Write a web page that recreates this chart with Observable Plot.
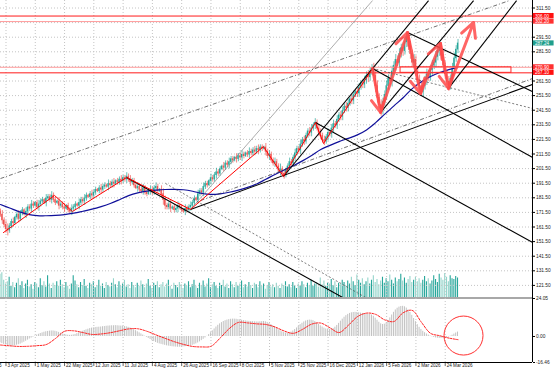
<!DOCTYPE html>
<html><head><meta charset="utf-8">
<script src="https://cdn.jsdelivr.net/npm/d3@7"></script>
<script src="https://cdn.jsdelivr.net/npm/@observablehq/plot@0.6"></script>
<style>
html,body{margin:0;padding:0;background:#fff;}
#wrap{position:relative;width:554px;height:370px;overflow:hidden;background:#fff;font-family:"Liberation Sans",Arial,sans-serif;}
.layer{position:absolute;left:0;}
</style></head><body><div id="wrap"></div>
<script>
// ---------- DATA ----------
const firstOpen = 172;
const closes = [
170,166,163,160,159,
162,165,164,168,170,167,171,173,170,172,175,174,177,176,178,175,177,179,180,178,181,182,180,183,
180,178,179,176,177,175,174,176,173,172,
174,175,177,176,178,180,179,181,183,182,184,183,185,187,186,188,187,189,190,189,191,190,192,191,193,192,194,193,195,194,196,
194,192,193,190,188,189,187,186,188,185,184,186,187,185,188,189,186,187,184,180,176,
175,177,174,175,173,174,176,175,173,172,174,173,175,176,
178,181,180,184,186,185,189,191,190,193,195,194,197,199,198,201,203,202,205,204,206,208,207,209,208,210,209,211,210,212,211,213,212,214,213,215,214,216,215,216,
213,210,211,207,205,206,203,200,201,198,197,
200,203,206,205,209,212,215,214,218,221,220,224,227,226,229,231,233,
229,226,224,221,220,
223,226,225,229,232,231,235,238,237,241,244,243,246,249,248,252,254,253,257,260,259,262,265,264,268,270,
265,258,250,245,241,
247,252,258,263,261,268,272,276,274,280,284,282,288,291,
285,280,274,276,268,262,258,254,
258,262,266,264,269,272,274,278,282,285,
279,272,266,261,258,
263,270,277,283,287.24
];
const wicks = [
2,3,2,3,4,2,2,3,1,2, 3,2,2,1,3,2,2,3,2,1, 2,3,2,2,1,3,2,2,3,2, 2,1,3,2,2,3,1,2,2,3,
2,2,1,3,2,2,3,2,1,2, 3,2,2,1,2,3,2,2,1,3, 2,2,3,1,2,2,3,2,2,3, 2,3,2,2,1,3,2,2,3,2,
2,1,3,2,2,3,2,1,3,4, 3,2,2,3,1,2,2,3,2,2, 1,3,2,2,3,2,2,1,3,2, 2,3,2,2,1,3,2,2,3,2,
2,1,3,2,2,3,2,2,1,3, 2,2,3,2,1,2,3,2,2,3, 2,3,2,2,1,3,2,3,2,2, 3,2,2,4,2,3,2,2,3,2,
2,3,2,2,3,2,3,2,2,3, 3,2,3,2,3,3,2,3,2,3, 2,3,3,2,3,2,3,3,2,3, 3,2,3,3,2,3,3,2,3,3,
3,4,3,3,4,5,4,3,4,3, 3,4,3,3,4,3,4,3,4,3, 4,3,4,3,4,3,4,3,3,4, 3,4,3,4,3,3,4,3,4,3,
4,3,4,3,3,4,3,4,4,3, 3
];
const volumes = [
68,70,60,55,58,64,52,57,50,56, 62,53,58,49,55,60,51,54,48,57, 55,50,62,53,58,51,66,55,49,56,
53,58,52,60,54,50,57,52,48,55, 66,59,54,50,57,53,61,52,49,56, 54,58,50,53,60,52,55,49,57,53,
51,56,62,54,50,58,52,55,60,51, 54,49,57,53,50,56,52,59,54,50, 55,61,52,49,56,53,58,50,54,57,
51,55,60,52,48,56,53,50,57,54, 49,55,52,58,50,54,60,52,49,56, 53,59,51,55,62,50,54,57,52,49,
56,53,60,51,55,49,58,54,50,57, 52,55,59,50,54,51,57,53,49,56, 54,50,58,52,55,48,53,57,51,54,
50,56,52,49,55,53,58,51,54,50, 57,53,49,55,52,58,54,50,56,53, 60,52,55,57,51,63,54,59,52,56,
55,61,53,58,50,56,54,60,57,52, 59,55,64,58,53,67,60,56,62,54, 58,63,55,60,66,57,61,54,59,64,
56,62,58,67,60,55,63,58,61,68, 59,63,56,61,65,57,60,64,58,62, 56,60,65,58,62,55,59,66,61,57,
68,63,60,69,64,58,66,62,61,65, 63
];
const macdHist = [
-4.0,-4.5,-5.0,-5.3,-5.8,-6.0,-6.2,-6.0,-5.8,-5.5, -5.2,-4.8,-4.2,-3.6,-3.0,-2.3,-1.6,-1.0,-0.4,0.3,
0.9,1.4,1.9,2.3,2.7,3.0,3.2,3.4,3.5,3.5, 3.3,3.0,2.6,2.1,1.7,1.3,1.0,0.8,0.7,0.8,
1.0,1.3,1.8,2.3,2.8,3.3,3.8,4.2,4.6,5.0, 5.3,5.5,5.7,5.8,5.9,6.0,6.2,6.3,6.5,6.6,
6.7,6.8,6.8,6.9,6.8,6.7,6.6,6.5,6.3,6.1, 5.8,5.4,4.9,4.3,3.7,3.0,2.3,1.6,0.9,0.2,
-0.5,-1.2,-1.9,-2.6,-3.2,-3.8,-4.3,-4.7,-5.0,-5.3, -5.6,-5.9,-6.1,-6.3,-6.5,-6.6,-6.7,-6.8,-6.8,-6.7,
-6.6,-6.5,-6.3,-6.1,-5.9,-5.6,-5.2,-4.7,-4.1,-3.4, -2.6,-1.8,-0.9,0.1,1.2,2.4,3.6,4.8,6.0,7.1,
8.0,8.8,9.5,10.0,10.4,10.7,10.9,11.0,11.0,10.9, 10.7,10.5,10.3,10.1,9.9,9.7,9.6,9.5,9.4,9.3,
9.2,9.2,9.3,9.4,9.5,9.3,8.9,8.3,7.6,6.8, 6.0,5.1,4.3,3.6,3.0,2.5,2.2,2.1,2.3,2.8,
3.5,4.4,5.4,6.5,7.5,8.4,9.2,9.8,10.2,10.4, 10.3,10.0,9.4,8.6,7.7,6.8,6.0,5.3,4.8,4.5,
4.4,4.6,5.1,5.9,7.0,8.3,9.7,11.0,12.2,13.2, 14.0,14.6,15.0,15.2,15.3,15.2,15.0,14.8,14.6,14.4,
14.3,14.2,14.0,13.6,12.8,11.6,10.3,9.0,8.0,7.6, 7.8,8.6,10.0,11.8,13.6,15.3,16.8,17.9,18.6,19.0,
19.1,18.8,18.0,16.8,15.2,13.4,11.4,9.4,7.5,5.8, 4.4,3.3,2.4,1.6,0.9,0.3,-0.2,-0.6,-0.9,-1.1,
-1.2,-1.2,-1.1,-0.9,-0.6,-0.3,0.2,0.8,1.5,2.2, 2.8
];
// signal line and moving average, read every 5 bars
const everyFive = d3.range(0, 251, 5);
const macdSignal = [-5.4,-5.9,-6.3,-6.2,-5.8,-5.1,-1.3,3.3,3.6,2.5, 1.3,1.6,2.4,3.6,4.8,4.9,3.3,1.0,-1.2,-3.3,
 -5.0,-6.3,-6.6,-6.2,-1.0,5.0,8.9,8.6,8.0,7.6, 6.0,3.5,2.0,4.5,7.8,8.5,5.5,2.5,7.0,12.5,
 14.8,14.0,10.5,9.5,15.0,16.5,9.0,2.0,0.5,-1.0, -2.0];
const movingAvg = [176.9,174.5,172.0,170.2,169.3,169.2,169.4,170.0,171.0,172.3, 173.7,175.5,177.6,180.2,183.0,184.9,186.1,186.8,187.2,187.3,
 187.0,186.0,184.5,183.8,184.2,185.3,186.8,188.6,191.0,194.2, 197.5,200.6,203.5,206.8,210.5,214.6,217.4,220.0,222.2,224.6,
 228.0,233.0,238.8,244.5,250.0,256.3,261.0,264.6,267.3,269.3, 270.8];
// zigzag and arrows (bar index, price)
const zigI = [1.6,29.5,39.3,68.9,103.8,143.7,154.6,172.1,176.5,203.3];
const zigP = [157.7,183.1,172.1,195.4,173.5,216.6,196.1,233.1,218.7,270.1];
const arrowI = [203.3,207.7,222.4,229.5,240.4,244.8,258.5];
const arrowP = [270.1,240.0,294.7,252.9,287.2,256.4,301.6];
// trend lines [i1, p1, i2, p2]
const thickLines = [
 [68.9,195.4,188.0,112.5],[103.8,173.5,290.7,259.1],[203.3,270.1,290.7,209.1],[172.1,233.1,290.7,150.9],
 [222.4,294.7,290.7,254.3],[154.6,196.1,233.9,316.6],[207.7,240.0,258.5,316.6],[244.8,256.4,282.0,316.6]
];
const dashedLines = [[90.2,191.3,200.5,112.5],[203.3,270.1,290.7,242.7]];
const dashDotLines = [[0,194.7,278.1,316.6],[109.3,179.6,290.7,263.2]];
const thinLines = [[103.8,173.5,203.3,316.6]];
// horizontal levels
const levelStrong = [306.0, 267.1];
const levelLight = [302.2, 270.9];
const zoneI = [218.6, 279.2];
const zoneP = [267.1, 270.9];
// axes
const priceGrid = [311.5,301.5,291.5,281.5,271.5,261.5,251.5,241.5,231.5,221.5,211.5,201.5,191.5,181.5,171.5,161.5,151.5,141.5,131.5,121.5];
const priceTickLabels = [311.5,291.5,281.5,261.5,251.5,241.5,231.5,221.5,211.5,201.5,191.5,181.5,171.5,161.5,151.5,141.5,131.5,121.5];
const macdTicks = [24.05, 0, -16.46];
const xTickIdx = [-13,3,19,35,51,67,83,99,115,131,147,163,179,195,211,227,243];
const xTickLabels = ["7 Mar 2025","3 Apr 2025","1 May 2025","22 May 2025","12 Jun 2025","11 Jul 2025","4 Aug 2025","26 Aug 2025","16 Sep 2025","8 Oct 2025","5 Nov 2025","25 Nov 2025","16 Dec 2025","12 Jan 2026","5 Feb 2026","2 Mar 2026","24 Mar 2026"];
const circleI = 253.0, circleV = 0.6;

// ---------- BUILD ----------
const X_DOMAIN = [0, 290.7];
const P_DOMAIN = [112.53, 316.64];
const V_DOMAIN = [37, 83];
const M_DOMAIN = [-16.46, 24.05];
const UP = "#26a69a", DOWN = "#ef5350";
const FONT = "Liberation Sans, Arial, sans-serif";

const bars = closes.map((c, i) => {
  const o = i === 0 ? firstOpen : closes[i - 1];
  const w = wicks[i] * 0.9;
  return {i, o, c, hi: Math.max(o, c) + w, lo: Math.min(o, c) - w, up: c >= o, v: volumes[i], m: macdHist[i]};
});
const maData = everyFive.map((i, k) => ({i, p: movingAvg[k]}));
const sigData = everyFive.map((i, k) => ({i, m: macdSignal[k]}));
const zig = zigI.map((i, k) => ({i, p: zigP[k]}));
const arrows = arrowI.slice(1).map((i, k) => ({i1: arrowI[k], p1: arrowP[k], i2: i, p2: arrowP[k + 1]}));
const ticksX = xTickIdx.map((i, k) => ({i, label: xTickLabels[k]}));
const gridIdx = xTickIdx.filter(i => i >= 0);
const lastClose = closes[closes.length - 1];
const boxes = [
  ...levelStrong.map(p => ({p, fill: "#ff1010"})),
  ...levelLight.map(p => ({p, fill: "#ff3030"})),
  {p: lastClose, fill: "#1f9e8c"}
];
const wrap = document.getElementById("wrap");
function layer(top, node) {
  const d = document.createElement("div");
  d.className = "layer"; d.style.top = top + "px";
  d.appendChild(node); wrap.appendChild(d); return d;
}
const linkOpts = (extra) => Object.assign({x1: d => d[0], y1: d => d[1], x2: d => d[2], y2: d => d[3], clip: true}, extra);

// volume layer
const vol = Plot.plot({
  width: 554, height: 298, marginLeft: 0, marginRight: 22, marginTop: 0, marginBottom: 0,
  style: {background: "transparent", fontFamily: FONT},
  x: {domain: X_DOMAIN, axis: null, label: null},
  y: {domain: V_DOMAIN, range: [297, 262.5], axis: null, label: null},
  marks: [
    Plot.rect(bars, {x1: d => d.i - 0.3, x2: d => d.i + 0.3, y1: V_DOMAIN[0], y2: "v", fill: d => d.up ? "#26a69a" : "#94d5cb"})
  ]
});
layer(0, vol);

// main price layer
const main = Plot.plot({
  width: 554, height: 298, marginLeft: 0, marginRight: 22, marginTop: 0, marginBottom: 0,
  style: {background: "transparent", fontFamily: FONT, overflow: "visible"},
  x: {domain: X_DOMAIN, axis: null, label: null},
  y: {domain: P_DOMAIN, axis: null, label: null},
  marks: [
    Plot.gridY(priceGrid, {stroke: "#c4c4c4", strokeOpacity: 1, strokeDasharray: "1,2"}),
    Plot.gridX(gridIdx, {stroke: "#c4c4c4", strokeOpacity: 1, strokeDasharray: "1,2"}),
    Plot.ruleX(bars, {x: "i", y1: "lo", y2: "hi", stroke: d => d.up ? UP : DOWN, strokeWidth: 0.7}),
    Plot.rect(bars, {x1: d => d.i - 0.36, x2: d => d.i + 0.36, y1: "o", y2: "c", fill: d => d.up ? UP : DOWN, insetTop: -0.3, insetBottom: -0.3}),
    Plot.line(maData, {x: "i", y: "p", stroke: "#10109a", strokeWidth: 1.2, curve: "catmull-rom"}),
    Plot.ruleY(levelLight, {stroke: "#ff9a9a", strokeWidth: 1}),
    Plot.ruleY(levelStrong, {stroke: "#ff1a1a", strokeWidth: 1}),
    Plot.rect([0], {x1: zoneI[0], x2: zoneI[1], y1: zoneP[0], y2: zoneP[1], fill: "none", stroke: "#ff2a2a", strokeWidth: 1}),
    Plot.link(thinLines, linkOpts({stroke: "#8a8a8a", strokeWidth: 0.7})),
    Plot.link(dashDotLines, linkOpts({stroke: "#333", strokeWidth: 0.7, strokeDasharray: "4,2,1,2"})),
    Plot.link(dashedLines, linkOpts({stroke: "#444", strokeWidth: 0.7, strokeDasharray: "2,2"})),
    Plot.link(thickLines, linkOpts({stroke: "#000", strokeWidth: 1.1})),
    Plot.line(zig, {x: "i", y: "p", stroke: "#ff0000", strokeWidth: 1}),
    Plot.arrow(arrows, {x1: "i1", y1: "p1", x2: "i2", y2: "p2", stroke: "#ff4a4a", strokeOpacity: 0.85, strokeWidth: 3, headLength: 8, headAngle: 55}),
    Plot.ruleX([X_DOMAIN[1]], {stroke: "#000", strokeWidth: 1}),
    Plot.axisY(priceTickLabels, {anchor: "right", tickSize: 2, tickPadding: 1.5, tickFormat: d => d.toFixed(2), fontSize: 4.8, fill: "#222"}),
    Plot.rect(boxes, {x1: X_DOMAIN[1] + 0.4, x2: X_DOMAIN[1] + 11.8, y1: d => d.p - 1.75, y2: d => d.p + 1.75, fill: d => d.fill}),
    Plot.text(boxes, {x: X_DOMAIN[1], y: "p", dx: 2.5, text: d => d.p.toFixed(2), fill: "#fff", fontSize: 4.6, textAnchor: "start"})
  ]
});
layer(0, main);

// separator
const sep = document.createElement("div");
sep.className = "layer";
Object.assign(sep.style, {top: "297px", width: "532px", height: "1.6px", background: "#a8a8a8"});
wrap.appendChild(sep);

// MACD layer
const macd = Plot.plot({
  width: 554, height: 72, marginLeft: 0, marginRight: 22, marginTop: 0, marginBottom: 8,
  style: {background: "transparent", fontFamily: FONT, overflow: "visible"},
  x: {domain: X_DOMAIN, axis: null, label: null},
  y: {domain: M_DOMAIN, axis: null, label: null},
  marks: [
    Plot.gridX(gridIdx, {stroke: "#c4c4c4", strokeOpacity: 1, strokeDasharray: "1,2"}),
    Plot.rect(bars, {x1: d => d.i - 0.27, x2: d => d.i + 0.27, y1: 0, y2: "m", fill: "#c2c2c2"}),
    Plot.line(sigData, {x: "i", y: "m", stroke: "#ff2020", strokeWidth: 1, strokeDasharray: "2,1.3", curve: "catmull-rom"}),
    Plot.dot([0], {x: circleI, y: circleV, r: 19.5, stroke: "#ff3030", strokeWidth: 1, fill: "none"}),
    Plot.ruleX([X_DOMAIN[1]], {stroke: "#000", strokeWidth: 1}),
    Plot.ruleY([M_DOMAIN[0]], {stroke: "#000", strokeWidth: 1}),
    Plot.axisY(macdTicks, {anchor: "right", tickSize: 2, tickPadding: 1.5, tickFormat: d => d.toFixed(2), fontSize: 4.8, fill: "#222"}),
    Plot.ruleX(ticksX, {x: "i", y1: M_DOMAIN[0], y2: M_DOMAIN[0] - 2.6, stroke: "#000", strokeWidth: 0.6, clip: false}),
    Plot.text(ticksX, {x: "i", y: M_DOMAIN[0], dy: 1.5, dx: 1.5, text: "label", textAnchor: "start", lineAnchor: "top", fontSize: 4.6, fill: "#222"})
  ]
});
layer(298, macd);
</script></body></html>
